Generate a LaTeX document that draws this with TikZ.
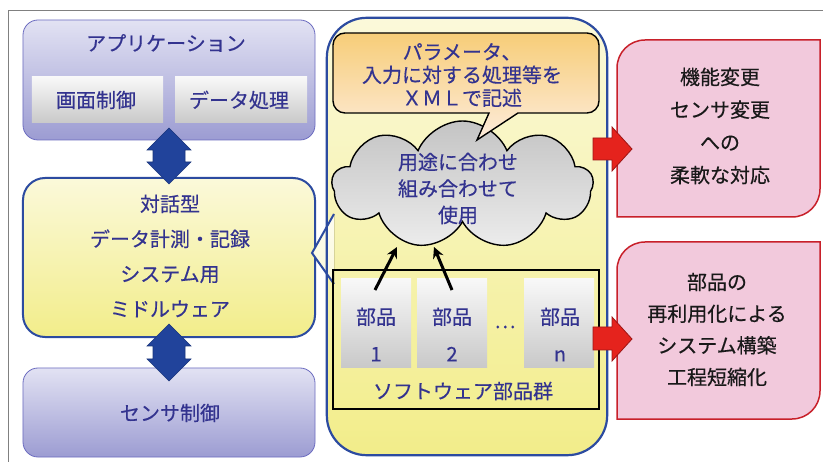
\documentclass[tikz,border=0pt]{standalone}
\usepackage{fontspec}
\setmainfont{Noto Sans CJK JP}[FakeBold=0.4]
\usetikzlibrary{shapes.symbols,arrows.meta}
\definecolor{navy}{HTML}{33338F}
\definecolor{bordblue}{HTML}{2C4BA0}
\definecolor{lavtop}{HTML}{E2E2F3}
\definecolor{lavbot}{HTML}{9C9CD2}
\definecolor{lavline}{HTML}{6C6CC0}
\definecolor{yeltop}{HTML}{FBF9DA}
\definecolor{yelbot}{HTML}{F2ED8A}
\definecolor{arrblue}{HTML}{21439B}
\definecolor{pinkfill}{HTML}{F2C9DC}
\definecolor{pinkline}{HTML}{C8202A}
\definecolor{redfill}{HTML}{E5231D}
\definecolor{redline}{HTML}{9E1616}
\definecolor{bubtop}{HTML}{F7CD78}
\definecolor{bubbot}{HTML}{FDECDC}
\definecolor{cloudtop}{HTML}{C4C4C4}
\definecolor{cloudbot}{HTML}{ECECEC}
\definecolor{parttop}{HTML}{F8F8F8}
\definecolor{partbot}{HTML}{C9C9C9}
\tikzset{
  txt/.style={font=\fontsize{20bp}{24bp}\selectfont, text=navy, inner sep=0pt},
  blktxt/.style={font=\fontsize{20bp}{24bp}\selectfont, text=black!90, inner sep=0pt},
  lavbox/.style={rounded corners=15bp, top color=lavtop, bottom color=lavbot, draw=lavline, line width=0.8bp, inner sep=0pt},
  subbox/.style={top color=parttop, bottom color=partbot, inner sep=0pt, minimum height=46bp},
  mwbox/.style={rounded corners=22bp, top color=yeltop, bottom color=yelbot, draw=bordblue, line width=2bp, inner sep=0pt},
  contfill/.style={rounded corners=40bp, top color=yeltop, bottom color=yelbot, inner sep=0pt},
  contline/.style={rounded corners=40bp, draw=bordblue, line width=2.2bp},
  bluearrow/.style={fill=arrblue, draw=arrblue!80!black, line width=0.6bp, line join=miter},
  redarrow/.style={fill=redfill, draw=redline, line width=0.8bp, line join=miter},
  pinkbox/.style={fill=pinkfill, draw=pinkline, line width=1.5bp},
  partbox/.style={top color=parttop, bottom color=partbot, inner sep=0pt, minimum width=70bp, minimum height=88bp},
  blkarrow/.style={line width=3bp, -{Stealth[length=11bp,width=11bp]}}
}
\begin{document}
\begin{tikzpicture}[x=1bp,y=-1bp]
\useasboundingbox (0,0) rectangle (823,462);
\fill[white] (0,0) rectangle (823,462);
% frame
\draw[black!50, line width=1bp] (8,462) -- (8,11) -- (823,11);

% application box
\node[lavbox, minimum width=292bp, minimum height=120bp] (app) at (169,80) {};
\node[txt] (apptxt) at (166,43) {アプリケーション};
\node[subbox, minimum width=131bp] (gamen) at (97.5,100) {};
\node[txt] (gamentxt) at (96,100) {画面制御};
\node[subbox, minimum width=132bp] (data) at (241,100) {};
\node[txt] (datatxt) at (239,100) {データ処理};

% middleware box
\node[mwbox, minimum width=292bp, minimum height=159bp] (mw) at (169,257.5) {};
\node[txt, align=center, font=\fontsize{20bp}{35bp}\selectfont] (mwtxt) at (170,256) {対話型\\データ計測・記録\\システム用\\ミドルウェア};

% sensor box
\node[lavbox, minimum width=292bp, minimum height=89bp] (sens) at (169,412.5) {};
\node[txt] (senstxt) at (170,413) {センサ制御};

% blue double arrows
\draw[bluearrow] (147,150) -- (169,128) -- (191,150) -- (185,150) -- (185,162) -- (191,162) -- (169,184) -- (147,162) -- (153,162) -- (153,150) -- cycle;
\draw[bluearrow] (147,346) -- (169,324) -- (191,346) -- (185,346) -- (185,359) -- (191,359) -- (169,381) -- (147,359) -- (153,359) -- (153,346) -- cycle;

% container
\node[contfill, minimum width=280bp, minimum height=437bp] (cont) at (467,236.5) {};
\fill[top color=white!60!yeltop, bottom color=yeltop] (334,214) -- (312,253) -- (334,284) -- cycle;
\draw[bordblue, line width=2bp, line join=miter] (334,214) -- (312,253) -- (334,284);
\draw[contline] (cont.north west) rectangle (cont.south east);

% cloud
\node[cloud, cloud puffs=9, cloud puff arc=135, cloud ignores aspect, draw=black, line width=1.4bp,
      top color=cloudtop, bottom color=cloudbot, minimum width=261bp, minimum height=128bp, inner sep=0pt] (cl) at (462.5,185) {};
\node[txt, align=center, font=\fontsize{20bp}{26.5bp}\selectfont] (cltxt) at (458,188.5) {用途に合わせ\\組み合わせて\\使用};

% speech bubble
\draw[line width=1.4bp, top color=bubtop, bottom color=bubbot, line join=miter]
  (345,33) -- (587,33) .. controls (593.6,33) and (599,38.4) .. (599,45) -- (599,101)
  .. controls (599,107.6) and (593.6,113) .. (587,113) -- (518,113) -- (477,140) -- (489,113)
  -- (345,113) .. controls (338.4,113) and (333,107.6) .. (333,101) -- (333,45)
  .. controls (333,38.4) and (338.4,33) .. (345,33) -- cycle;
\node[txt, align=center, font=\fontsize{20bp}{23bp}\selectfont] (bubtxt) at (462,75) {パラメータ、\\入力に対する処理等を\\ＸＭＬで記述};

% software parts
\node[draw=black, line width=2bp, minimum width=266bp, minimum height=139bp, inner sep=0pt] (frame) at (466,339.5) {};
\node[partbox] (p1) at (376,323) {};
\node[partbox] (p2) at (452,323) {};
\node[partbox] (pn) at (559,323) {};
\node[txt, align=center, font=\fontsize{20bp}{37bp}\selectfont] (p1t) at (376,334.5) {部品\\1};
\node[txt, align=center, font=\fontsize{20bp}{37bp}\selectfont] (p2t) at (452,334.5) {部品\\2};
\node[txt, align=center, font=\fontsize{20bp}{37bp}\selectfont] (pnt) at (560,334.5) {部品\\n};
\node[txt] (dots) at (505,327) {…};
\node[txt] (swtxt) at (463,391) {ソフトウェア部品群};

% black arrows
\coordinate (a1s) at (375,290);
\coordinate (a1e) at (397,247);
\coordinate (a2s) at (452,290);
\coordinate (a2e) at (434,247);
\draw[blkarrow] (a1s) -- (a1e);
\draw[blkarrow] (a2s) -- (a2e);

% pink boxes
\draw[pinkbox] (617,217) -- (617,68) .. controls (617,52.5) and (629.5,40) .. (645,40) -- (820,40) -- (820,189) .. controls (820,204.5) and (807.5,217) .. (792,217) -- cycle;
\node[blktxt, align=center, font=\fontsize{20bp}{32.7bp}\selectfont] (pk1) at (720,126) {機能変更\\センサ変更\\への\\柔軟な対応};
\draw[pinkbox] (617,419) -- (617,270) .. controls (617,254.5) and (629.5,242) .. (645,242) -- (820,242) -- (820,391) .. controls (820,406.5) and (807.5,419) .. (792,419) -- cycle;
\node[blktxt, align=center, font=\fontsize{20bp}{31.7bp}\selectfont] (pk2) at (717,329.5) {部品の\\再利用化による\\システム構築\\工程短縮化};

% red arrows
\draw[redarrow] (593,138) -- (612,138) -- (612,127) -- (632,149) -- (612,171) -- (612,160) -- (593,160) -- cycle;
\draw[redarrow] (593,327) -- (612,327) -- (612,317) -- (632,339) -- (612,361) -- (612,350) -- (593,350) -- cycle;
\end{tikzpicture}
\end{document}
